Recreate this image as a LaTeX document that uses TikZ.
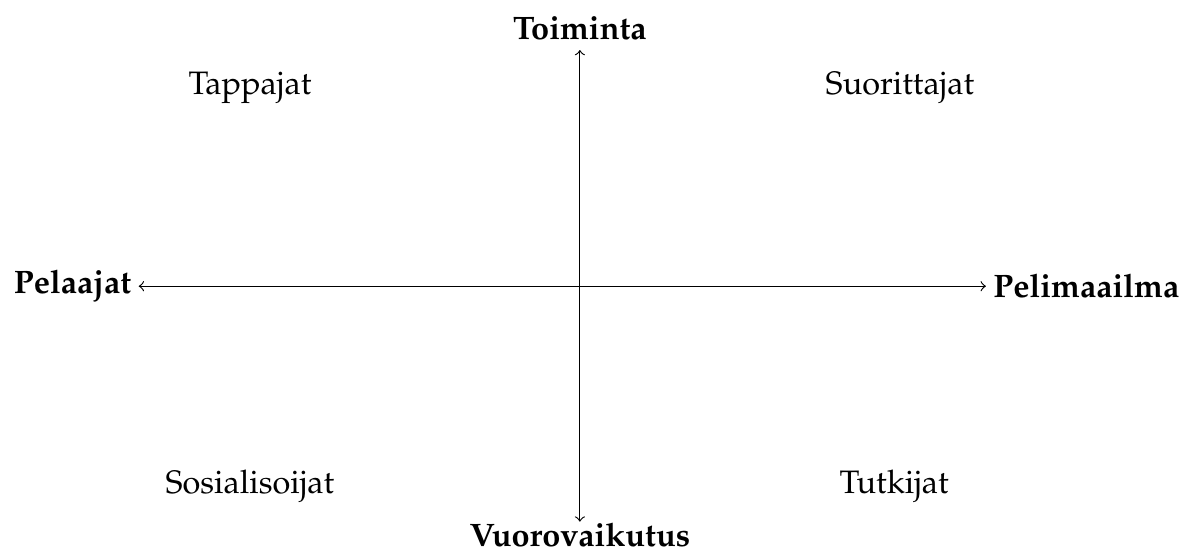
\documentclass[tikz,border=0pt]{standalone}
\usepackage[T1]{fontenc}
\usepackage{mathpazo}
\usepackage{tikz}
\usetikzlibrary{positioning}

\begin{document}
\fontsize{11.2}{13.6}\selectfont
\begin{tikzpicture}[pole/.style={font=\bfseries, inner xsep=2.4pt, inner ysep=2pt}, group/.style={inner sep=0pt}]
    \useasboundingbox (-7.03,-3.24) rectangle (7.36,3.47);
    % Axes
    \coordinate (o) at (0,0);
    \node[pole] (pel) at (-6.15,0) {Pelaajat};
    \node[pole] (maa) at (6.14,0) {Pelimaailma};
    \node[pole, inner ysep=3.4pt] (toi) at (0,3.13) {Toiminta};
    \node[pole, inner ysep=0.4pt] (vuo) at (0,-3.02) {Vuorovaikutus};
    \draw[->] (o) -- (pel);
    \draw[->] (o) -- (maa);
    \draw[->] (o) -- (toi);
    \draw[->] (o) -- (vuo);

    % Player types
    \node[group] (tap) at (-4.0,2.4) {Tappajat};
    \node[group] (suo) at (3.88,2.4) {Suorittajat};
    \node[group] (sos) at (-4.0,-2.42) {Sosialisoijat};
    \node[group] (tut) at (3.81,-2.42) {Tutkijat};
\end{tikzpicture}
\end{document}
